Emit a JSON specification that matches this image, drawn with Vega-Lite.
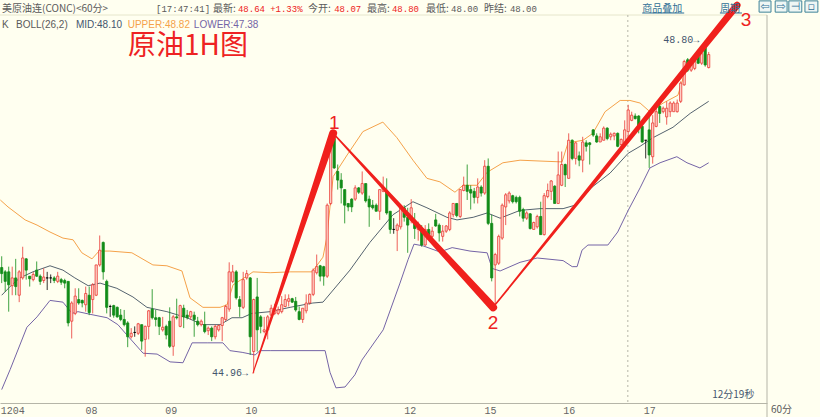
{"$schema":"https://vega.github.io/schema/vega-lite/v6.json","width":767,"height":388,"autosize":"none","padding":{"left":0,"top":15,"right":53,"bottom":14},"background":"#fffff0","config":{"view":{"stroke":null},"scale":{"continuousPadding":0}},
"datasets":{"candles":[
{"t":0,"o":46.18,"h":46.31,"l":46.0,"c":46.11,"d":"d"},{"t":1,"o":46.13,"h":46.15,"l":45.9,"c":46.02,"d":"d"},{"t":2,"o":46.13,"h":46.19,"l":45.67,"c":45.98,"d":"d"},{"t":3,"o":45.97,"h":46.19,"l":45.86,"c":46.06,"d":"u"},{"t":4,"o":46.06,"h":46.28,"l":45.86,"c":45.96,"d":"d"},{"t":5,"o":45.86,"h":46.15,"l":45.78,"c":46.13,"d":"u"},{"t":6,"o":46.06,"h":46.42,"l":46.04,"c":46.29,"d":"u"},{"t":7,"o":46.28,"h":46.29,"l":46.04,"c":46.15,"d":"d"},{"t":8,"o":46.08,"h":46.08,"l":45.96,"c":46.05,"d":"d"},{"t":9,"o":46.04,"h":46.13,"l":46.02,"c":46.1,"d":"u"},
{"t":10,"o":46.15,"h":46.25,"l":46.07,"c":46.08,"d":"d"},{"t":11,"o":46.08,"h":46.1,"l":45.98,"c":46.02,"d":"d"},{"t":12,"o":46.03,"h":46.17,"l":46.0,"c":46.07,"d":"u"},{"t":13,"o":46.06,"h":46.13,"l":45.92,"c":46.06,"d":"f"},{"t":14,"o":46.06,"h":46.1,"l":46.0,"c":46.06,"d":"f"},{"t":15,"o":46.06,"h":46.08,"l":46.0,"c":46.03,"d":"d"},{"t":16,"o":46.02,"h":46.13,"l":46.0,"c":46.08,"d":"u"},{"t":17,"o":46.04,"h":46.06,"l":45.98,"c":46.01,"d":"d"},{"t":18,"o":46.03,"h":46.05,"l":45.94,"c":46.0,"d":"d"},{"t":19,"o":46.02,"h":46.02,"l":45.5,"c":45.54,"d":"d"},
{"t":20,"o":45.56,"h":45.79,"l":45.36,"c":45.77,"d":"u"},{"t":21,"o":45.65,"h":45.94,"l":45.63,"c":45.85,"d":"u"},{"t":22,"o":45.81,"h":45.94,"l":45.75,"c":45.77,"d":"d"},{"t":23,"o":45.8,"h":45.81,"l":45.72,"c":45.77,"d":"d"},{"t":24,"o":45.75,"h":45.96,"l":45.67,"c":45.88,"d":"u"},{"t":25,"o":45.86,"h":45.96,"l":45.63,"c":45.66,"d":"d"},{"t":26,"o":45.81,"h":46.0,"l":45.65,"c":45.98,"d":"u"},{"t":27,"o":45.86,"h":46.21,"l":45.85,"c":46.21,"d":"u"},{"t":28,"o":46.21,"h":46.55,"l":46.19,"c":46.38,"d":"u"},{"t":29,"o":46.47,"h":46.48,"l":46.04,"c":46.13,"d":"d"},
{"t":30,"o":46.02,"h":46.04,"l":45.65,"c":45.72,"d":"d"},{"t":31,"o":45.73,"h":45.75,"l":45.61,"c":45.73,"d":"f"},{"t":32,"o":45.74,"h":45.75,"l":45.6,"c":45.63,"d":"d"},{"t":33,"o":45.72,"h":45.73,"l":45.6,"c":45.61,"d":"d"},{"t":34,"o":45.63,"h":45.7,"l":45.56,"c":45.58,"d":"d"},{"t":35,"o":45.58,"h":45.69,"l":45.5,"c":45.52,"d":"d"},{"t":36,"o":45.54,"h":45.56,"l":45.26,"c":45.38,"d":"d"},{"t":37,"o":45.38,"h":45.48,"l":45.36,"c":45.42,"d":"u"},{"t":38,"o":45.43,"h":45.5,"l":45.38,"c":45.43,"d":"f"},{"t":39,"o":45.42,"h":45.54,"l":45.4,"c":45.53,"d":"u"},
{"t":40,"o":45.52,"h":45.52,"l":45.23,"c":45.33,"d":"d"},{"t":41,"o":45.35,"h":45.51,"l":45.15,"c":45.5,"d":"u"},{"t":42,"o":45.5,"h":45.69,"l":45.35,"c":45.68,"d":"u"},{"t":43,"o":45.7,"h":45.93,"l":45.58,"c":45.6,"d":"d"},{"t":44,"o":45.6,"h":45.69,"l":45.5,"c":45.58,"d":"d"},{"t":45,"o":45.6,"h":45.61,"l":45.4,"c":45.5,"d":"d"},{"t":46,"o":45.46,"h":45.61,"l":45.44,"c":45.49,"d":"u"},{"t":47,"o":45.5,"h":45.52,"l":45.35,"c":45.4,"d":"d"},{"t":48,"o":45.56,"h":45.72,"l":45.25,"c":45.27,"d":"d"},{"t":49,"o":45.27,"h":45.63,"l":45.16,"c":45.61,"d":"u"},
{"t":50,"o":45.61,"h":45.82,"l":45.58,"c":45.6,"d":"d"},{"t":51,"o":45.5,"h":45.75,"l":45.49,"c":45.74,"d":"u"},{"t":52,"o":45.71,"h":45.75,"l":45.48,"c":45.61,"d":"d"},{"t":53,"o":45.63,"h":45.69,"l":45.58,"c":45.6,"d":"d"},{"t":54,"o":45.61,"h":45.68,"l":45.58,"c":45.67,"d":"u"},{"t":55,"o":45.63,"h":45.67,"l":45.38,"c":45.58,"d":"d"},{"t":56,"o":45.56,"h":45.61,"l":45.5,"c":45.52,"d":"d"},{"t":57,"o":45.52,"h":45.58,"l":45.5,"c":45.56,"d":"u"},{"t":58,"o":45.52,"h":45.67,"l":45.42,"c":45.44,"d":"d"},{"t":59,"o":45.45,"h":45.5,"l":45.4,"c":45.48,"d":"u"},
{"t":60,"o":45.48,"h":45.5,"l":45.33,"c":45.38,"d":"d"},{"t":61,"o":45.38,"h":45.52,"l":45.35,"c":45.5,"d":"u"},{"t":62,"o":45.46,"h":45.52,"l":45.44,"c":45.51,"d":"u"},{"t":63,"o":45.51,"h":45.61,"l":45.33,"c":45.6,"d":"u"},{"t":64,"o":45.58,"h":45.75,"l":45.56,"c":45.73,"d":"u"},{"t":65,"o":45.7,"h":46.24,"l":45.67,"c":46.13,"d":"u"},{"t":66,"o":46.02,"h":46.21,"l":46.0,"c":46.13,"d":"u"},{"t":67,"o":46.13,"h":46.15,"l":45.81,"c":45.83,"d":"d"},{"t":68,"o":45.81,"h":45.85,"l":45.61,"c":45.73,"d":"d"},{"t":69,"o":45.72,"h":46.13,"l":45.7,"c":46.04,"d":"u"},
{"t":70,"o":46.06,"h":46.15,"l":46.04,"c":46.11,"d":"u"},{"t":71,"o":46.06,"h":46.07,"l":45.17,"c":45.38,"d":"d"},{"t":72,"o":45.21,"h":45.82,"l":44.96,"c":45.81,"d":"u"},{"t":73,"o":45.84,"h":46.06,"l":45.21,"c":45.46,"d":"d"},{"t":74,"o":45.61,"h":45.63,"l":45.42,"c":45.5,"d":"d"},{"t":75,"o":45.44,"h":45.61,"l":45.42,"c":45.46,"d":"u"},{"t":76,"o":45.46,"h":45.63,"l":45.35,"c":45.61,"d":"u"},{"t":77,"o":45.63,"h":45.75,"l":45.62,"c":45.71,"d":"u"},{"t":78,"o":45.65,"h":45.76,"l":45.63,"c":45.7,"d":"u"},{"t":79,"o":45.65,"h":45.73,"l":45.63,"c":45.69,"d":"u"},
{"t":80,"o":45.67,"h":45.85,"l":45.65,"c":45.75,"d":"u"},{"t":81,"o":45.73,"h":45.87,"l":45.72,"c":45.81,"d":"u"},{"t":82,"o":45.79,"h":45.87,"l":45.73,"c":45.82,"d":"u"},{"t":83,"o":45.82,"h":45.83,"l":45.77,"c":45.78,"d":"d"},{"t":84,"o":45.79,"h":45.84,"l":45.67,"c":45.69,"d":"d"},{"t":85,"o":45.67,"h":45.73,"l":45.57,"c":45.58,"d":"d"},{"t":86,"o":45.58,"h":45.71,"l":45.54,"c":45.71,"d":"u"},{"t":87,"o":45.68,"h":45.87,"l":45.65,"c":45.77,"d":"u"},{"t":88,"o":45.77,"h":45.88,"l":45.75,"c":45.87,"d":"u"},{"t":89,"o":45.87,"h":46.17,"l":45.85,"c":46.15,"d":"u"},
{"t":90,"o":46.12,"h":46.33,"l":46.1,"c":46.19,"d":"u"},{"t":91,"o":46.2,"h":46.21,"l":46.02,"c":46.08,"d":"d"},{"t":92,"o":46.19,"h":46.2,"l":45.97,"c":46.08,"d":"d"},{"t":93,"o":46.08,"h":46.92,"l":46.06,"c":46.9,"d":"u"},{"t":94,"o":46.92,"h":47.71,"l":46.9,"c":47.65,"d":"u"},{"t":95,"o":47.67,"h":47.71,"l":47.32,"c":47.33,"d":"d"},{"t":96,"o":47.29,"h":47.37,"l":47.08,"c":47.19,"d":"d"},{"t":97,"o":47.19,"h":47.27,"l":46.92,"c":47.1,"d":"d"},{"t":98,"o":47.08,"h":47.08,"l":46.69,"c":46.9,"d":"d"},{"t":99,"o":46.92,"h":46.92,"l":46.83,"c":46.88,"d":"d"},
{"t":100,"o":46.97,"h":46.98,"l":46.82,"c":46.88,"d":"d"},{"t":101,"o":46.97,"h":47.13,"l":46.95,"c":47.1,"d":"u"},{"t":102,"o":47.1,"h":47.11,"l":47.03,"c":47.05,"d":"d"},{"t":103,"o":47.04,"h":47.29,"l":47.02,"c":47.15,"d":"u"},{"t":104,"o":47.15,"h":47.15,"l":46.93,"c":46.95,"d":"d"},{"t":105,"o":46.97,"h":47.01,"l":46.65,"c":46.88,"d":"d"},{"t":106,"o":46.9,"h":46.96,"l":46.85,"c":46.87,"d":"d"},{"t":107,"o":46.9,"h":46.92,"l":46.83,"c":46.83,"d":"d"},{"t":108,"o":46.83,"h":47.08,"l":46.73,"c":47.08,"d":"u"},{"t":109,"o":47.06,"h":47.23,"l":47.05,"c":47.1,"d":"u"},
{"t":110,"o":47.06,"h":47.21,"l":46.79,"c":46.81,"d":"d"},{"t":111,"o":46.83,"h":46.83,"l":46.57,"c":46.62,"d":"d"},{"t":112,"o":46.62,"h":46.75,"l":46.57,"c":46.62,"d":"f"},{"t":113,"o":46.61,"h":46.69,"l":46.37,"c":46.67,"d":"u"},{"t":114,"o":46.65,"h":46.9,"l":46.62,"c":46.88,"d":"u"},{"t":115,"o":46.87,"h":46.9,"l":46.71,"c":46.76,"d":"d"},{"t":116,"o":46.76,"h":46.87,"l":46.35,"c":46.67,"d":"d"},{"t":117,"o":46.73,"h":46.97,"l":46.69,"c":46.87,"d":"u"},{"t":118,"o":46.71,"h":46.81,"l":46.51,"c":46.63,"d":"d"},{"t":119,"o":46.62,"h":46.71,"l":46.49,"c":46.67,"d":"u"},
{"t":120,"o":46.61,"h":46.67,"l":46.42,"c":46.44,"d":"d"},{"t":121,"o":46.44,"h":46.67,"l":46.43,"c":46.62,"d":"u"},{"t":122,"o":46.62,"h":46.69,"l":46.52,"c":46.56,"d":"d"},{"t":123,"o":46.54,"h":46.65,"l":46.46,"c":46.6,"d":"u"},{"t":124,"o":46.73,"h":46.8,"l":46.65,"c":46.66,"d":"d"},{"t":125,"o":46.67,"h":46.69,"l":46.48,"c":46.58,"d":"d"},{"t":126,"o":46.54,"h":46.67,"l":46.48,"c":46.6,"d":"u"},{"t":127,"o":46.6,"h":46.67,"l":46.58,"c":46.66,"d":"u"},{"t":128,"o":46.62,"h":46.83,"l":46.6,"c":46.81,"d":"u"},{"t":129,"o":46.79,"h":46.92,"l":46.76,"c":46.92,"d":"u"},
{"t":130,"o":46.92,"h":46.92,"l":46.76,"c":46.78,"d":"d"},{"t":131,"o":46.77,"h":47.08,"l":46.75,"c":47.08,"d":"u"},{"t":132,"o":47.07,"h":47.23,"l":47.06,"c":47.13,"d":"u"},{"t":133,"o":47.13,"h":47.37,"l":46.96,"c":47.06,"d":"d"},{"t":134,"o":47.08,"h":47.13,"l":46.85,"c":47.04,"d":"d"},{"t":135,"o":47.06,"h":47.1,"l":46.92,"c":46.99,"d":"d"},{"t":136,"o":46.99,"h":47.21,"l":46.92,"c":47.11,"d":"u"},{"t":137,"o":47.11,"h":47.13,"l":47.0,"c":47.04,"d":"d"},{"t":138,"o":47.04,"h":47.42,"l":47.02,"c":47.35,"d":"u"},{"t":139,"o":47.35,"h":47.44,"l":46.67,"c":46.69,"d":"d"},
{"t":140,"o":46.69,"h":46.79,"l":46.02,"c":46.06,"d":"d"},{"t":141,"o":46.21,"h":46.35,"l":45.73,"c":46.33,"d":"u"},{"t":142,"o":46.23,"h":46.56,"l":46.21,"c":46.54,"d":"u"},{"t":143,"o":46.52,"h":46.92,"l":46.5,"c":46.9,"d":"u"},{"t":144,"o":46.88,"h":47.04,"l":46.67,"c":47.02,"d":"u"},{"t":145,"o":46.95,"h":47.06,"l":46.92,"c":47.04,"d":"u"},{"t":146,"o":47.01,"h":47.02,"l":46.92,"c":46.94,"d":"d"},{"t":147,"o":46.99,"h":47.01,"l":46.92,"c":46.94,"d":"d"},{"t":148,"o":46.99,"h":47.01,"l":46.77,"c":46.83,"d":"d"},{"t":149,"o":46.85,"h":46.87,"l":46.71,"c":46.75,"d":"d"},
{"t":150,"o":46.75,"h":46.83,"l":46.73,"c":46.81,"d":"u"},{"t":151,"o":46.8,"h":46.81,"l":46.62,"c":46.63,"d":"d"},{"t":152,"o":46.62,"h":46.71,"l":46.62,"c":46.7,"d":"u"},{"t":153,"o":46.65,"h":46.79,"l":46.63,"c":46.77,"d":"u"},{"t":154,"o":46.77,"h":46.94,"l":46.56,"c":46.56,"d":"d"},{"t":155,"o":46.56,"h":47.04,"l":46.55,"c":47.01,"d":"u"},{"t":156,"o":47.0,"h":47.15,"l":46.98,"c":47.07,"d":"u"},{"t":157,"o":47.06,"h":47.19,"l":46.96,"c":47.18,"d":"u"},{"t":158,"o":47.12,"h":47.13,"l":46.92,"c":46.92,"d":"d"},{"t":159,"o":46.92,"h":47.52,"l":46.92,"c":47.25,"d":"u"},
{"t":160,"o":47.13,"h":47.52,"l":47.12,"c":47.37,"d":"u"},{"t":161,"o":47.37,"h":47.38,"l":47.11,"c":47.25,"d":"d"},{"t":162,"o":47.21,"h":47.73,"l":47.21,"c":47.65,"d":"u"},{"t":163,"o":47.65,"h":47.66,"l":47.42,"c":47.44,"d":"d"},{"t":164,"o":47.44,"h":47.63,"l":47.37,"c":47.62,"d":"u"},{"t":165,"o":47.47,"h":47.52,"l":47.35,"c":47.42,"d":"d"},{"t":166,"o":47.42,"h":47.69,"l":47.28,"c":47.63,"d":"u"},{"t":167,"o":47.62,"h":47.65,"l":47.52,"c":47.58,"d":"d"},{"t":168,"o":47.62,"h":47.63,"l":47.37,"c":47.6,"d":"d"},{"t":169,"o":47.77,"h":47.78,"l":47.69,"c":47.71,"d":"d"},
{"t":170,"o":47.7,"h":47.73,"l":47.62,"c":47.63,"d":"d"},{"t":171,"o":47.63,"h":47.73,"l":47.63,"c":47.69,"d":"u"},{"t":172,"o":47.65,"h":47.81,"l":47.65,"c":47.79,"d":"u"},{"t":173,"o":47.79,"h":47.8,"l":47.65,"c":47.67,"d":"d"},{"t":174,"o":47.69,"h":47.74,"l":47.65,"c":47.72,"d":"u"},{"t":175,"o":47.7,"h":47.74,"l":47.65,"c":47.73,"d":"u"},{"t":176,"o":47.73,"h":47.74,"l":47.57,"c":47.58,"d":"d"},{"t":177,"o":47.6,"h":47.67,"l":47.56,"c":47.66,"d":"u"},{"t":178,"o":47.62,"h":47.88,"l":47.6,"c":47.77,"d":"u"},{"t":179,"o":47.75,"h":48.06,"l":47.62,"c":48.0,"d":"u"},
{"t":180,"o":47.88,"h":47.98,"l":47.87,"c":47.94,"d":"u"},{"t":181,"o":47.93,"h":47.96,"l":47.89,"c":47.9,"d":"d"},{"t":182,"o":47.93,"h":47.94,"l":47.73,"c":47.79,"d":"d"},{"t":183,"o":47.81,"h":47.83,"l":47.62,"c":47.63,"d":"d"},{"t":184,"o":47.65,"h":47.65,"l":47.44,"c":47.65,"d":"f"},{"t":185,"o":47.77,"h":47.92,"l":47.33,"c":47.48,"d":"d"},{"t":186,"o":47.46,"h":47.94,"l":47.38,"c":47.85,"d":"u"},{"t":187,"o":47.81,"h":48.04,"l":47.8,"c":47.98,"d":"u"},{"t":188,"o":48.04,"h":48.08,"l":47.85,"c":47.96,"d":"d"},{"t":189,"o":47.98,"h":48.04,"l":47.96,"c":48.02,"d":"u"},
{"t":190,"o":47.92,"h":48.1,"l":47.83,"c":48.02,"d":"u"},{"t":191,"o":47.98,"h":48.1,"l":47.92,"c":48.08,"d":"u"},{"t":192,"o":47.98,"h":48.1,"l":47.98,"c":48.08,"d":"u"},{"t":193,"o":47.98,"h":48.12,"l":47.97,"c":48.08,"d":"u"},{"t":194,"o":48.1,"h":48.33,"l":48.08,"c":48.31,"d":"u"},{"t":195,"o":48.29,"h":48.58,"l":48.28,"c":48.56,"d":"u"},{"t":196,"o":48.58,"h":48.6,"l":48.44,"c":48.46,"d":"d"},{"t":197,"o":48.46,"h":48.54,"l":48.44,"c":48.52,"d":"u"},{"t":198,"o":48.48,"h":48.58,"l":48.46,"c":48.56,"d":"u"},{"t":199,"o":48.62,"h":48.63,"l":48.53,"c":48.54,"d":"d"},
{"t":200,"o":48.54,"h":48.67,"l":48.52,"c":48.65,"d":"u"},{"t":201,"o":48.75,"h":48.8,"l":48.5,"c":48.52,"d":"d"},{"t":202,"o":48.49,"h":48.67,"l":48.48,"c":48.64,"d":"u"}],
"bands":[
{"tone":"upper","t":-0.4,"p":46.96},{"tone":"upper","t":1.8,"p":46.88},{"tone":"upper","t":6.7,"p":46.73},{"tone":"upper","t":10.1,"p":46.67},{"tone":"upper","t":13.8,"p":46.59},{"tone":"upper","t":17.5,"p":46.52},{"tone":"upper","t":20.4,"p":46.5},{"tone":"upper","t":22.9,"p":46.35},{"tone":"upper","t":25.8,"p":46.28},{"tone":"upper","t":27.8,"p":46.37},{"tone":"upper","t":30.9,"p":46.37},{"tone":"upper","t":37.2,"p":46.35},{"tone":"upper","t":43.2,"p":46.21},{"tone":"upper","t":47.2,"p":46.2},{"tone":"upper","t":51.5,"p":46.14},{"tone":"upper","t":53.8,"p":45.83},{"tone":"upper","t":57.5,"p":45.72},{"tone":"upper","t":62.4,"p":45.72},{"tone":"upper","t":64.4,"p":45.75},{"tone":"upper","t":66.1,"p":45.98},{"tone":"upper","t":70.4,"p":46.09},{"tone":"upper","t":71.8,"p":46.13},{"tone":"upper","t":76.7,"p":46.12},{"tone":"upper","t":82.4,"p":46.13},{"tone":"upper","t":88.7,"p":46.13},{"tone":"upper","t":91.8,"p":46.3},{"tone":"upper","t":92.9,"p":46.53},{"tone":"upper","t":94.7,"p":47.23},{"tone":"upper","t":98.7,"p":47.48},{"tone":"upper","t":103.2,"p":47.75},{"tone":"upper","t":108.9,"p":47.86},{"tone":"upper","t":112.9,"p":47.68},{"tone":"upper","t":117.5,"p":47.42},{"tone":"upper","t":121.5,"p":47.21},{"tone":"upper","t":125.2,"p":47.17},{"tone":"upper","t":129.5,"p":47.05},{"tone":"upper","t":131.8,"p":47.13},{"tone":"upper","t":135.8,"p":47.13},{"tone":"upper","t":138.7,"p":47.28},{"tone":"upper","t":143.2,"p":47.39},{"tone":"upper","t":148.1,"p":47.42},{"tone":"upper","t":153.8,"p":47.41},{"tone":"upper","t":160.1,"p":47.4},{"tone":"upper","t":161.8,"p":47.62},{"tone":"upper","t":166.1,"p":47.65},{"tone":"upper","t":168.9,"p":47.73},{"tone":"upper","t":172.4,"p":47.98},{"tone":"upper","t":176.7,"p":48.11},{"tone":"upper","t":179.5,"p":48.11},{"tone":"upper","t":182.4,"p":48.08},{"tone":"upper","t":185.2,"p":47.98},{"tone":"upper","t":189,"p":48.08},{"tone":"upper","t":193.2,"p":48.17},{"tone":"upper","t":194.7,"p":48.37},{"tone":"upper","t":196.1,"p":48.54},{"tone":"upper","t":198.7,"p":48.61},{"tone":"upper","t":202,"p":48.82},
{"tone":"mid","t":0,"p":45.86},{"tone":"mid","t":2.9,"p":45.98},{"tone":"mid","t":5.2,"p":46.06},{"tone":"mid","t":8.9,"p":46.13},{"tone":"mid","t":13.8,"p":46.2},{"tone":"mid","t":17.5,"p":46.15},{"tone":"mid","t":20.9,"p":46.06},{"tone":"mid","t":24.7,"p":45.97},{"tone":"mid","t":28.1,"p":46.0},{"tone":"mid","t":32.9,"p":45.94},{"tone":"mid","t":37.5,"p":45.84},{"tone":"mid","t":41.5,"p":45.72},{"tone":"mid","t":47.2,"p":45.67},{"tone":"mid","t":52.9,"p":45.6},{"tone":"mid","t":57.5,"p":45.52},{"tone":"mid","t":62.4,"p":45.52},{"tone":"mid","t":65.8,"p":45.6},{"tone":"mid","t":68.7,"p":45.6},{"tone":"mid","t":71.5,"p":45.65},{"tone":"mid","t":76.7,"p":45.67},{"tone":"mid","t":82.4,"p":45.72},{"tone":"mid","t":88.9,"p":45.77},{"tone":"mid","t":91.8,"p":45.78},{"tone":"mid","t":99.5,"p":46.15},{"tone":"mid","t":105.2,"p":46.47},{"tone":"mid","t":111.8,"p":46.79},{"tone":"mid","t":117.5,"p":46.94},{"tone":"mid","t":121.5,"p":46.87},{"tone":"mid","t":127.2,"p":46.76},{"tone":"mid","t":130.1,"p":46.73},{"tone":"mid","t":134.7,"p":46.76},{"tone":"mid","t":138.7,"p":46.81},{"tone":"mid","t":142.4,"p":46.75},{"tone":"mid","t":148.1,"p":46.84},{"tone":"mid","t":153.8,"p":46.86},{"tone":"mid","t":160.4,"p":46.86},{"tone":"mid","t":163.8,"p":46.9},{"tone":"mid","t":168.7,"p":47.11},{"tone":"mid","t":173.8,"p":47.27},{"tone":"mid","t":179,"p":47.5},{"tone":"mid","t":182.4,"p":47.58},{"tone":"mid","t":186.1,"p":47.68},{"tone":"mid","t":191.8,"p":47.8},{"tone":"mid","t":196.7,"p":47.96},{"tone":"mid","t":202,"p":48.1},
{"tone":"lower","t":0,"p":44.77},{"tone":"lower","t":2.4,"p":45.0},{"tone":"lower","t":7.2,"p":45.49},{"tone":"lower","t":10.1,"p":45.61},{"tone":"lower","t":13.8,"p":45.8},{"tone":"lower","t":17.5,"p":45.78},{"tone":"lower","t":20.1,"p":45.65},{"tone":"lower","t":21.8,"p":45.67},{"tone":"lower","t":25.2,"p":45.64},{"tone":"lower","t":30.1,"p":45.6},{"tone":"lower","t":33.2,"p":45.52},{"tone":"lower","t":35.8,"p":45.4},{"tone":"lower","t":40.4,"p":45.19},{"tone":"lower","t":44.4,"p":45.18},{"tone":"lower","t":48.1,"p":45.09},{"tone":"lower","t":51.8,"p":45.08},{"tone":"lower","t":54.4,"p":45.31},{"tone":"lower","t":58.7,"p":45.31},{"tone":"lower","t":63.2,"p":45.31},{"tone":"lower","t":65.2,"p":45.22},{"tone":"lower","t":68.7,"p":45.2},{"tone":"lower","t":72.4,"p":45.17},{"tone":"lower","t":73.8,"p":45.22},{"tone":"lower","t":76.7,"p":45.22},{"tone":"lower","t":92.4,"p":45.22},{"tone":"lower","t":93.8,"p":44.97},{"tone":"lower","t":95.5,"p":44.79},{"tone":"lower","t":98.1,"p":44.8},{"tone":"lower","t":100.9,"p":44.94},{"tone":"lower","t":102.9,"p":45.11},{"tone":"lower","t":109,"p":45.46},{"tone":"lower","t":113.8,"p":46.0},{"tone":"lower","t":116.1,"p":46.27},{"tone":"lower","t":117.8,"p":46.45},{"tone":"lower","t":120.4,"p":46.43},{"tone":"lower","t":125.2,"p":46.36},{"tone":"lower","t":128.7,"p":46.41},{"tone":"lower","t":133.8,"p":46.37},{"tone":"lower","t":138.7,"p":46.35},{"tone":"lower","t":140.1,"p":46.17},{"tone":"lower","t":142.4,"p":46.14},{"tone":"lower","t":148.1,"p":46.24},{"tone":"lower","t":153,"p":46.29},{"tone":"lower","t":160.4,"p":46.26},{"tone":"lower","t":163,"p":46.19},{"tone":"lower","t":164.4,"p":46.19},{"tone":"lower","t":165.8,"p":46.38},{"tone":"lower","t":167.5,"p":46.44},{"tone":"lower","t":173.2,"p":46.44},{"tone":"lower","t":176,"p":46.59},{"tone":"lower","t":179,"p":46.84},{"tone":"lower","t":182.4,"p":47.1},{"tone":"lower","t":185.2,"p":47.33},{"tone":"lower","t":188.1,"p":47.39},{"tone":"lower","t":192.9,"p":47.46},{"tone":"lower","t":195.8,"p":47.39},{"tone":"lower","t":199.5,"p":47.33},{"tone":"lower","t":202,"p":47.39}]},
"encoding":{
"x":{"field":"t","type":"quantitative","scale":{"domain":[-0.486,218.66],"nice":false,"zero":false,"padding":0},"axis":{"title":null,"grid":false,"ticks":false,"domain":true,"domainColor":"#b5b5a8","labelFont":"Liberation Mono","labelFontSize":10,"labelColor":"#666666","labelPadding":2,"labelOverlap":false,"labelFlush":false,"values":[3,25.5,48.3,71.2,93.8,116.6,139.5,162,185],"labelExpr":"datum.value==3?'1204':datum.value==25.5?'08':datum.value==48.3?'09':datum.value==71.2?'10':datum.value==93.8?'11':datum.value==116.6?'12':datum.value==139.5?'15':datum.value==162?'16':'17'"}},
"y":{"field":"p","type":"quantitative","scale":{"domain":[44.615,49.097],"nice":false,"zero":false,"padding":0},"axis":{"title":null,"orient":"right","grid":true,"gridColor":"#e8e8d0","gridWidth":1,"ticks":false,"domain":false,"labelFont":"Liberation Mono","labelFontSize":10,"labelColor":"#777777","labelPadding":4,"values":[45,45.5,46,46.5,47,47.5,48,48.5],"format":".1f"}},
"color":{"field":"tone","type":"nominal","legend":null,"scale":{"domain":["upper","mid","lower","frame","top","gray","red","blue","dark"],"range":["#f5a24a","#55636f","#7464a6","#b5b5a8","#e6e6cc","#5a5a5a","#ee2222","#2f6f96","#44566e"]}}},
"layer":[
{"data":{"values":[{"g":"top","tone":"top","t":-0.486,"p":49.097},{"g":"top","tone":"top","t":218.66,"p":49.097},{"g":"right","tone":"frame","t":218.66,"p":49.097},{"g":"right","tone":"frame","t":218.66,"p":44.43},{"g":"u1","tone":"blue","t":183,"p":49.12},{"g":"u1","tone":"blue","t":195,"p":49.12},{"g":"u2","tone":"blue","t":205.2,"p":49.12},{"g":"u2","tone":"blue","t":211.5,"p":49.12}]},"mark":{"type":"line","strokeWidth":1},"encoding":{"detail":{"field":"g"}}},
{"data":{"values":[{"t":178.9,"p":49.097,"tone":"frame"},{"t":178.9,"p":44.615,"tone":"frame"}]},"mark":{"type":"line","strokeWidth":1,"strokeDash":[2,3]}},
{"data":{"name":"bands"},"mark":{"type":"line","strokeWidth":1}},
{"data":{"name":"candles"},"mark":{"type":"rule","strokeWidth":1,"opacity":0.8},"encoding":{"color":null,"y":{"field":"l","type":"quantitative","scale":{"domain":[44.615,49.097],"nice":false,"zero":false,"padding":0},"axis":null},"y2":{"field":"h"},"stroke":{"field":"d","type":"nominal","legend":null,"scale":{"domain":["u","d","f"],"range":["#ea3a34","#118c18","#000000"]}}}},
{"data":{"name":"candles"},"mark":{"type":"bar","size":2.2,"strokeWidth":0.8},"encoding":{"color":null,"y":{"field":"o","type":"quantitative","scale":{"domain":[44.615,49.097],"nice":false,"zero":false,"padding":0},"axis":null},"y2":{"field":"c"},"fill":{"field":"d","type":"nominal","legend":null,"scale":{"domain":["u","d","f"],"range":["#ffd9cf","#118c18","#000000"]}},"stroke":{"field":"d","type":"nominal","legend":null,"scale":{"domain":["u","d","f"],"range":["#ea3a34","#118c18","#000000"]}}}},
{"data":{"values":[{"leg":"A","t":71.8,"p":44.96,"weight":1},{"leg":"A","t":94.7,"p":47.73,"weight":8},{"leg":"B","t":94.7,"p":47.73,"weight":1.5},{"leg":"B","t":140.4,"p":45.72,"weight":8},{"leg":"C","t":140.4,"p":45.72,"weight":1.5},{"leg":"C","t":210.1,"p":49.21,"weight":7}]},"mark":{"type":"trail","color":"#f0201c"},"encoding":{"color":null,"detail":{"field":"leg"},"size":{"field":"weight","type":"quantitative","legend":null,"scale":{"domain":[1,8],"range":[1,8]}}}},
{"data":{"values":[{"t":216.4,"t2":219.8,"p":49.26,"p2":49.13},{"t":221,"t2":224.4,"p":49.26,"p2":49.13},{"t":224.9,"t2":228.6,"p":49.26,"p2":49.13},{"t":229.5,"t2":233.2,"p":49.26,"p2":49.13}]},"mark":{"type":"rect","fill":"#eef6f4","stroke":"#3f8398","strokeWidth":1},"encoding":{"color":null,"x2":{"field":"t2"},"y2":{"field":"p2"}}},
{"data":{"values":[{"t":218.1,"p":49.195,"label":"⇦","tone":"blue"},{"t":222.7,"p":49.195,"label":"⇨","tone":"blue"},{"t":226.8,"p":49.195,"label":"⊣","tone":"blue"},{"t":231.3,"p":49.195,"label":"▫","tone":"blue"}]},"mark":{"type":"text","font":"DejaVu Sans","fontSize":11,"align":"center","baseline":"middle"},"encoding":{"text":{"field":"label"}}},
{"data":{"values":[{"t":0.1,"p":49.17,"label":"美原油连(CONC)<60分>","tone":"gray"},{"t":60.4,"p":49.17,"label":"最新:","tone":"gray"},{"t":87.5,"p":49.17,"label":"今开:","tone":"gray"},{"t":104.4,"p":49.17,"label":"最高:","tone":"gray"},{"t":121.2,"p":49.17,"label":"最低:","tone":"gray"},{"t":137.8,"p":49.17,"label":"昨结:","tone":"gray"},{"t":183,"p":49.17,"label":"商品叠加","tone":"blue"},{"t":205.2,"p":49.17,"label":"周期","tone":"blue"},{"t":203,"p":44.71,"label":"12分19秒","tone":"dark"},{"t":219.8,"p":44.53,"label":"60分","tone":"gray"}]},"mark":{"type":"text","font":"Noto Sans CJK SC","fontSize":10,"align":"left","baseline":"middle"},"encoding":{"text":{"field":"label"}}},
{"data":{"values":[{"t":44.1,"p":49.17,"label":"[17:47:41]","tone":"gray"},{"t":67.5,"p":49.17,"label":"48.64","tone":"red"},{"t":76.7,"p":49.17,"label":"+1.33%","tone":"red"},{"t":95,"p":49.17,"label":"48.07","tone":"red"},{"t":111.5,"p":49.17,"label":"48.80","tone":"red"},{"t":128.4,"p":49.17,"label":"48.00","tone":"gray"},{"t":145.2,"p":49.17,"label":"48.00","tone":"gray"}]},"mark":{"type":"text","font":"Liberation Mono","fontSize":9,"align":"left","baseline":"middle"},"encoding":{"text":{"field":"label"}}},
{"data":{"values":[{"t":0.1,"p":48.98,"label":"K","tone":"gray"},{"t":4.1,"p":48.98,"label":"BOLL(26,2)","tone":"gray"},{"t":21.2,"p":48.98,"label":"MID:48.10","tone":"dark"},{"t":36,"p":48.98,"label":"UPPER:48.82","tone":"upper"},{"t":54.9,"p":48.98,"label":"LOWER:47.38","tone":"lower"}]},"mark":{"type":"text","font":"Liberation Sans","fontSize":10,"align":"left","baseline":"middle"},"encoding":{"text":{"field":"label"}}},
{"data":{"values":[{"t":36.1,"p":48.73,"label":"原油1H图","tone":"red"}]},"mark":{"type":"text","font":"Noto Sans CJK SC","fontSize":28,"align":"left","baseline":"middle"},"encoding":{"text":{"field":"label"}}},
{"data":{"values":[{"t":95,"p":47.85,"label":"1","tone":"red"},{"t":140.4,"p":45.54,"label":"2","tone":"red"},{"t":212.7,"p":49.04,"label":"3","tone":"red"}]},"mark":{"type":"text","font":"Liberation Sans","fontSize":19,"align":"center","baseline":"middle"},"encoding":{"text":{"field":"label"}}},
{"data":{"values":[{"t":60.1,"p":44.96,"label":"44.96→","tone":"dark"},{"t":189,"p":48.81,"label":"48.80→","tone":"dark"}]},"mark":{"type":"text","font":"Liberation Mono","fontSize":10,"align":"left","baseline":"middle"},"encoding":{"text":{"field":"label"}}}
]}
